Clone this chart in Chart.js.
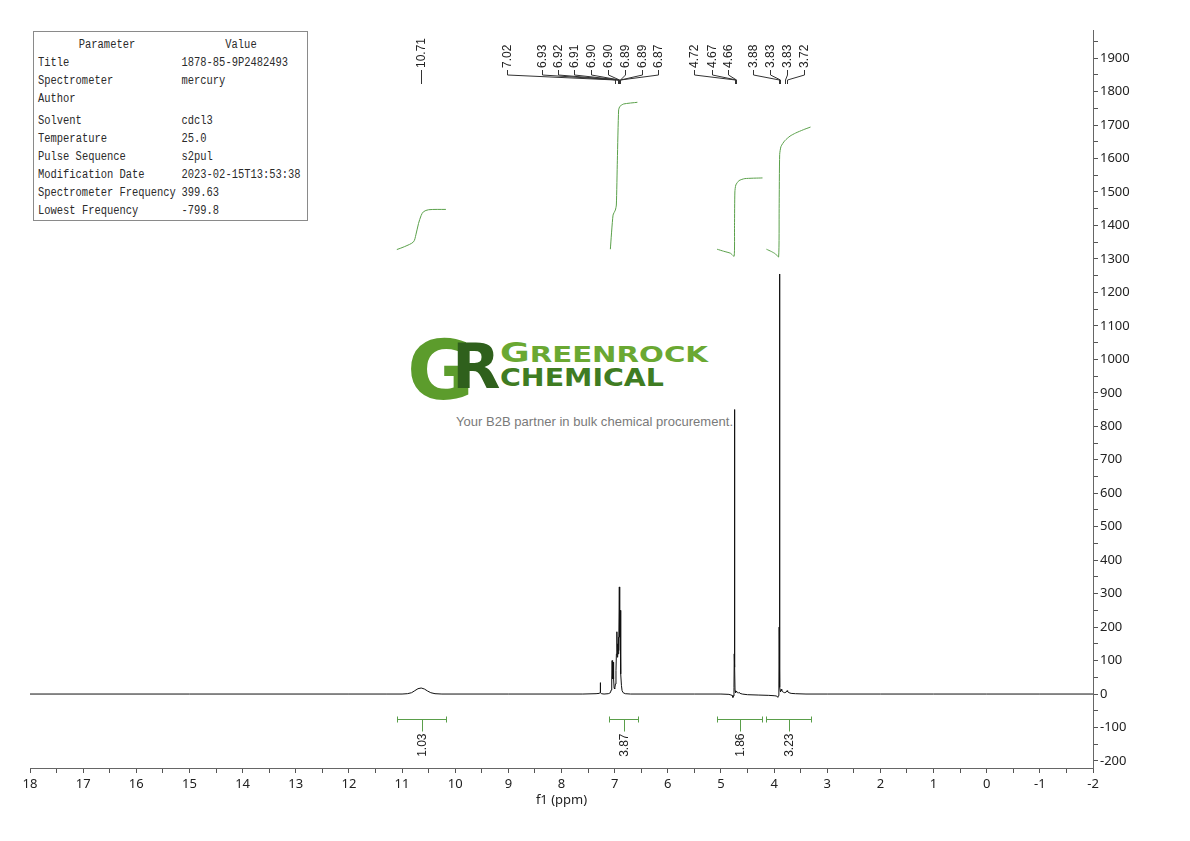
<!DOCTYPE html>
<html>
<head>
<meta charset="utf-8">
<script src="https://cdn.jsdelivr.net/npm/chart.js@4.4.1/dist/chart.umd.min.js"></script>
<style>
html,body{margin:0;padding:0;background:#fff;}
#wrap{position:relative;width:1190px;height:841px;overflow:hidden;}
#c{position:absolute;left:0;top:0;z-index:2;}
#ov{position:absolute;left:0;top:0;z-index:1;}
</style>
</head>
<body>
<div id="wrap">
<svg id="ov" width="1190" height="841" xmlns="http://www.w3.org/2000/svg"></svg>
<canvas id="c" width="1190" height="841"></canvas>
</div>
<script>
// ---------- DATA ----------
const paramNames  = ['Title','Spectrometer','Author','Solvent','Temperature','Pulse Sequence','Modification Date','Spectrometer Frequency','Lowest Frequency'];
const paramValues = ['1878-85-9P2482493','mercury','','cdcl3','25.0','s2pul','2023-02-15T13:53:38','399.63','-799.8'];

const xMajorTicks = [18,17,16,15,14,13,12,11,10,9,8,7,6,5,4,3,2,1,0,-1,-2];
const yMajorTicks = [-200,-100,0,100,200,300,400,500,600,700,800,900,1000,1100,1200,1300,1400,1500,1600,1700,1800,1900];

// spectrum [ppm, intensity]
const spectrum = [
 [18.0,0],[15.0,0],[12.0,0],[11.3,0],[11.0,0],[10.9,1],[10.82,4],[10.76,10],[10.70,16],[10.64,18],[10.58,15],[10.52,9],[10.46,4],[10.38,1],[10.25,0],
 [9.0,0],[7.6,0],[7.35,1],[7.29,2],[7.275,4],[7.27,34],[7.265,4],[7.25,1],[7.2,0],[7.12,1],
 [7.08,4],[7.065,12],[7.055,45],[7.048,100],[7.042,55],[7.035,45],[7.028,95],[7.02,45],[7.01,18],[7.0,15],
 [6.985,30],[6.975,70],[6.967,120],[6.958,186],[6.95,110],[6.943,150],[6.935,120],[6.928,170],[6.92,130],[6.912,320],[6.905,170],[6.898,250],[6.89,120],[6.882,60],[6.872,25],[6.86,10],[6.84,4],[6.8,1],[6.7,0],
 [5.5,0],[5.0,0],[4.85,-1],[4.79,-4],[4.775,-10],[4.765,-6],[4.755,20],[4.75,120],[4.745,850],[4.74,80],[4.735,10],[4.725,4],[4.715,9],[4.705,7],[4.69,4],[4.67,3],[4.66,5],[4.64,2],[4.6,0],
 [4.5,-2],[4.3,-3],[4.1,-4],[4.0,-5],[3.95,-6],[3.93,-10],[3.918,-5],[3.91,30],[3.905,200],[3.9,1255],[3.895,150],[3.89,20],[3.88,6],[3.865,14],[3.855,10],[3.84,7],[3.82,5],[3.80,4],[3.77,6],[3.755,10],[3.745,7],[3.72,4],[3.68,2],[3.6,1],[3.4,0],
 [3.0,0],[2.0,0],[1.0,0],[0.0,0],[-1.0,0],[-2.0,0]
];

// integral curves [ppm, running integral on the intensity axis]
const integ1 = [[11.098,1328],[10.95,1337],[10.785,1351],[10.74,1372],[10.69,1406],[10.64,1430],[10.597,1441],[10.50,1447],[10.175,1448]];
const integ2 = [[7.081,1329],[7.03,1431],[6.987,1446],[6.968,1461],[6.949,1595],[6.925,1745],[6.90,1756],[6.83,1763],[6.572,1768]];
const integ3 = [[5.072,1329],[4.95,1323],[4.821,1317],[4.752,1308],[4.745,1400],[4.738,1500],[4.72,1521],[4.66,1534],[4.55,1540],[4.218,1542]];
const integ4 = [[4.144,1329],[4.05,1322],[3.974,1315],[3.915,1306],[3.905,1450],[3.895,1612],[3.87,1636],[3.80,1653],[3.70,1667],[3.597,1676],[3.45,1686],[3.315,1694]];

// integration ranges and values
const intFrom   = [11.09, 7.10, 5.08, 4.16];
const intTo     = [10.17, 6.57, 4.22, 3.31];
const intLabels = ['1.03','3.87','1.86','3.23'];

// peak picking labels and the spectrum positions they point to
const peakLabels = ['10.71','7.02','6.93','6.92','6.91','6.90','6.90','6.89','6.89','6.87','4.72','4.67','4.66','3.88','3.83','3.83','3.72'];
const peakPos    = [10.64,7.00,6.94,6.93,6.92,6.91,6.91,6.90,6.90,6.89,4.745,4.72,4.71,3.90,3.88,3.80,3.76];

// ---------- overlay (parameter table + watermark) ----------
const NS = 'http://www.w3.org/2000/svg';
const ov = document.getElementById('ov');
function el(tag, attrs, text){
  const e = document.createElementNS(NS, tag);
  for (const k in attrs) e.setAttribute(k, attrs[k]);
  if (text !== undefined) e.textContent = text;
  ov.appendChild(e); return e;
}
el('rect',{x:33.5,y:31.5,width:274,height:189,fill:'#fff',stroke:'#8a8a8a','stroke-width':1});
const CW = 6.27;
function mono(x, y, s, anchor){
  if (!s) return;
  const a = {x:x, y:y, 'font-family':'"Liberation Mono","DejaVu Sans Mono",monospace','font-size':'12px',fill:'#2a2a2a',
             textLength:(s.length*CW).toFixed(1), lengthAdjust:'spacingAndGlyphs'};
  if (anchor) a['text-anchor'] = anchor;
  el('text', a, s);
}
mono(107,47.5,'Parameter','middle');
mono(241,47.5,'Value','middle');
const rowY = [65.5,83.5,101.5,123.5,141.5,159.5,177.5,195.5,213.5];
paramNames.forEach((n,i)=>{
  mono(38,rowY[i],n);
  mono(181.5,rowY[i],paramValues[i]);
});
// watermark
el('text',{x:407,y:399,'font-family':'"DejaVu Sans",sans-serif','font-weight':'bold','font-size':'82px',fill:'#5c9c2c'},'G');
el('text',{x:452,y:388,'font-family':'"DejaVu Sans",sans-serif','font-weight':'bold','font-size':'63px',fill:'#2f601c'},'R');
const g1 = el('text',{x:500,y:362,'font-family':'"DejaVu Sans",sans-serif','font-weight':'bold',fill:'#6aa832',textLength:208,lengthAdjust:'spacingAndGlyphs'});
const ts1 = document.createElementNS(NS,'tspan'); ts1.setAttribute('font-size','26px'); ts1.textContent='G'; g1.appendChild(ts1);
const ts2 = document.createElementNS(NS,'tspan'); ts2.setAttribute('font-size','21px'); ts2.textContent='REENROCK'; g1.appendChild(ts2);
el('text',{x:500,y:386,'font-family':'"DejaVu Sans",sans-serif','font-weight':'bold','font-size':'24.5px',fill:'#3f7c22',textLength:164,lengthAdjust:'spacingAndGlyphs'},'CHEMICAL');
el('text',{x:456,y:425.5,'font-family':'"Liberation Sans",Arial,sans-serif','font-size':'13px',fill:'#7a7a7a',textLength:277},'Your B2B partner in bulk chemical procurement.');

// ---------- annotation plugin ----------
const annot = {
  id:'annot',
  afterDatasetsDraw(chart, args, opts){
    const {ctx, chartArea} = chart;
    const x = chart.scales.x, y = chart.scales.y;
    const top = chartArea.top;
    ctx.save();
    ctx.font = '12px "Liberation Sans", Arial, sans-serif';
    ctx.fillStyle = '#222'; ctx.strokeStyle = '#333'; ctx.lineWidth = 1;
    peakLabels.forEach((t,i)=>{
      const lx = Math.round(x.getPixelForValue(opts.slots[i])) + 0.5;
      const px = Math.round(x.getPixelForValue(peakPos[i])) + 0.5;
      ctx.save(); ctx.translate(lx, top + 38); ctx.rotate(-Math.PI/2);
      ctx.textAlign = 'left'; ctx.textBaseline = 'middle'; ctx.fillText(t, 0, 0); ctx.restore();
      ctx.beginPath(); ctx.moveTo(lx, top + 40); ctx.lineTo(lx, top + 45);
      ctx.lineTo(px, top + 50); ctx.lineTo(px, top + 54); ctx.stroke();
    });
    const by = Math.round(y.getPixelForValue(-75)) + 0.5;
    intLabels.forEach((t,i)=>{
      const x1 = Math.round(x.getPixelForValue(intFrom[i])) + 0.5;
      const x2 = Math.round(x.getPixelForValue(intTo[i])) + 0.5;
      const xm = Math.round((x1 + x2) / 2) + 0.5;
      ctx.strokeStyle = '#5a9e4a';
      ctx.beginPath();
      ctx.moveTo(x1, by); ctx.lineTo(x2, by);
      ctx.moveTo(x1, by - 3); ctx.lineTo(x1, by + 3);
      ctx.moveTo(x2, by - 3); ctx.lineTo(x2, by + 3);
      ctx.moveTo(xm, by); ctx.lineTo(xm, by + 12);
      ctx.stroke();
      ctx.save(); ctx.translate(xm, by + 14); ctx.rotate(-Math.PI/2);
      ctx.textAlign = 'right'; ctx.textBaseline = 'middle'; ctx.fillStyle = '#222';
      ctx.fillText(t, 0, 0); ctx.restore();
    });
    ctx.restore();
  }
};

const toXY = a => a.map(p => ({x:p[0], y:p[1]}));
const green = '#5aa04a';
const tickFont = {family:'"Noto Sans", sans-serif', size:13};

new Chart(document.getElementById('c'), {
  type:'line',
  data:{datasets:[
    {data:toXY(spectrum), borderColor:'#111', borderWidth:1, pointRadius:0, tension:0},
    {data:toXY(integ1), borderColor:green, borderWidth:1, pointRadius:0, tension:0.3},
    {data:toXY(integ2), borderColor:green, borderWidth:1, pointRadius:0, tension:0.2},
    {data:toXY(integ3), borderColor:green, borderWidth:1, pointRadius:0, tension:0.2},
    {data:toXY(integ4), borderColor:green, borderWidth:1, pointRadius:0, tension:0.2}
  ]},
  options:{
    responsive:false, animation:false, devicePixelRatio:1,
    layout:{padding:{left:30, top:30, right:0, bottom:0}},
    plugins:{
      legend:{display:false}, tooltip:{enabled:false},
      annot:{slots:[10.64,9.021,8.367,8.060,7.759,7.439,7.119,6.798,6.484,6.177,5.499,5.166,4.859,4.394,4.068,3.753,3.446]}
    },
    scales:{
      x:{
        type:'linear', reverse:true, min:-2, max:18, position:'bottom',
        afterBuildTicks(s){
          const t = [];
          xMajorTicks.forEach(v => { t.push({value:v}); if (v > -2) t.push({value:v - 0.5}); });
          s.ticks = t.sort((a,b)=>a.value-b.value);
        },
        afterFit(s){ s.height = 73; },
        ticks:{autoSkip:false, maxRotation:0, color:'#222', font:tickFont, padding:3,
          callback:(v)=> xMajorTicks.includes(v) ? String(v) : ''},
        grid:{drawOnChartArea:false, drawTicks:true, tickLength:5, color:'#555'},
        border:{color:'#666'},
        title:{display:true, text:'f1 (ppm)', color:'#222', font:{family:'"Noto Sans", sans-serif', size:13}, padding:{top:0,bottom:33}}
      },
      y:{
        type:'linear', position:'right', min:-221, max:1984,
        afterBuildTicks(s){
          const t = [];
          yMajorTicks.forEach(v => { t.push({value:v}); t.push({value:v + 50}); });
          s.ticks = t.filter(o => o.value <= 1984 && o.value >= -221).sort((a,b)=>a.value-b.value);
        },
        afterFit(s){ s.width = 97; },
        ticks:{autoSkip:false, color:'#222', font:tickFont, padding:2,
          callback:(v)=> yMajorTicks.includes(v) ? String(v) : ''},
        grid:{drawOnChartArea:false, drawTicks:true, tickLength:5, color:'#555'},
        border:{color:'#666'}
      }
    }
  },
  plugins:[annot]
});
</script>
</body>
</html>
